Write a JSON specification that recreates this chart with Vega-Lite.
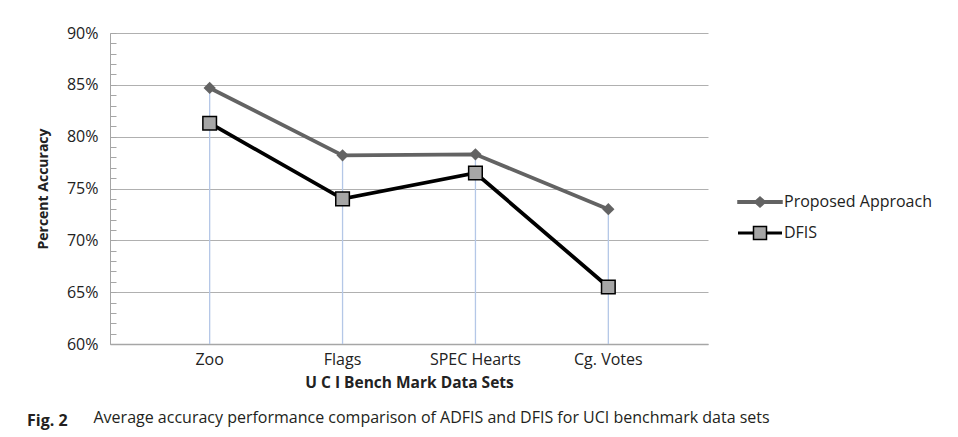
{
  "$schema": "https://vega.github.io/schema/vega-lite/v6.json",
  "autosize": {"type": "none"},
  "width": 598,
  "height": 311,
  "padding": {"left": 110, "top": 33, "right": 250, "bottom": 93},
  "background": "white",
  "config": {
    "view": {"stroke": null},
    "font": "Open Sans"
  },
  "title": {
    "text": "Fig. 2",
    "subtitle": "\u200b\u00a0\u00a0\u00a0\u00a0\u00a0\u00a0\u00a0\u00a0\u00a0\u00a0\u00a0\u00a0\u00a0\u00a0\u00a0\u00a0Average accuracy performance comparison of ADFIS and DFIS for UCI benchmark data sets",
    "orient": "bottom",
    "anchor": "start",
    "frame": "group",
    "dx": -83,
    "offset": 22,
    "font": "Open Sans",
    "fontSize": 16,
    "fontWeight": "bold",
    "color": "#231f20",
    "subtitleFont": "Open Sans",
    "subtitleFontSize": 16,
    "subtitleColor": "#231f20",
    "subtitlePadding": -19
  },
  "data": {
    "values": [
      {"set": "Zoo", "series": "Proposed Approach", "acc": 84.7},
      {"set": "Flags", "series": "Proposed Approach", "acc": 78.2},
      {"set": "SPEC Hearts", "series": "Proposed Approach", "acc": 78.3},
      {"set": "Cg. Votes", "series": "Proposed Approach", "acc": 73.0},
      {"set": "Zoo", "series": "DFIS", "acc": 81.3},
      {"set": "Flags", "series": "DFIS", "acc": 74.0},
      {"set": "SPEC Hearts", "series": "DFIS", "acc": 76.5},
      {"set": "Cg. Votes", "series": "DFIS", "acc": 65.5}
    ]
  },
  "encoding": {
    "x": {
      "field": "set",
      "type": "nominal",
      "sort": null,
      "scale": {"padding": 0.5},
      "axis": {
        "title": "U C I Bench Mark Data Sets",
        "titleFontSize": 15.5,
        "titleFontWeight": "bold",
        "titleColor": "#222222",
        "titlePadding": 8,
        "labelAngle": 0,
        "labelFontSize": 16,
        "labelColor": "#222222",
        "labelPadding": 7,
        "ticks": false,
        "grid": false,
        "domainColor": "#a6a6a6",
        "domainWidth": 1.5
      }
    },
    "y": {
      "field": "acc",
      "type": "quantitative",
      "scale": {"domain": [60, 90], "nice": false, "zero": false},
      "axis": {
        "title": "Percent Accuracy",
        "titleFontSize": 14,
        "titleFontWeight": "bold",
        "titleColor": "#222222",
        "titlePadding": 16,
        "values": [60,61,62,63,64,65,66,67,68,69,70,71,72,73,74,75,76,77,78,79,80,81,82,83,84,85,86,87,88,89,90],
        "labelExpr": "datum.value % 5 === 0 ? datum.value + '%' : ''",
        "labelOverlap": false,
        "labelBound": false,
        "labelFontSize": 16,
        "labelColor": "#222222",
        "labelPadding": 18,
        "grid": true,
        "gridColor": "#b0b0b0",
        "gridWidth": 1,
        "gridOpacity": {"condition": {"test": "datum.value % 5 === 0", "value": 1}, "value": 0},
        "ticks": true,
        "tickSize": -6,
        "tickColor": "#a6a6a6",
        "domainColor": "#a6a6a6",
        "domainWidth": 1
      }
    }
  },
  "layer": [
    {
      "transform": [{"filter": "datum.series === 'Proposed Approach'"}],
      "mark": {"type": "rule", "color": "#b4c7e7", "strokeWidth": 1.3},
      "encoding": {"y2": {"datum": 60}}
    },
    {
      "mark": {"type": "line", "strokeWidth": 3.8},
      "encoding": {
        "color": {
          "field": "series",
          "type": "nominal",
          "scale": {"domain": ["Proposed Approach", "DFIS"], "range": ["#636363", "#000000"]},
          "legend": {
            "title": null,
            "orient": "none",
            "legendX": 651,
            "legendY": 158,
            "labelFontSize": 16,
            "labelColor": "#222222",
            "labelOffset": 1,
            "symbolSize": 400,
            "rowPadding": 12,
            "symbolStrokeWidth": 1.5,
            "encode": {
              "symbols": {
                "update": {
                  "shape": {"signal": "datum.value === 'DFIS' ? 'M-3.4,-0.08 L-1.85,-0.08 M-3.4,0.08 L-1.85,0.08 M-0.55,-0.08 L1,-0.08 M-0.55,0.08 L1,0.08 M-1.85,-0.65 L-0.55,-0.65 L-0.55,0.65 L-1.85,0.65 Z' : 'M-3.4,-0.12 L1,-0.12 L1,0.12 L-3.4,0.12 Z M-1.2,-0.5 L-0.65,0 L-1.2,0.5 L-1.75,0 Z'"},
                  "fill": {"signal": "datum.value === 'DFIS' ? '#a6a6a6' : '#636363'"},
                  "stroke": {"signal": "datum.value === 'DFIS' ? '#000000' : '#636363'"},
                  "strokeWidth": {"value": 1.5},
                  "opacity": {"value": 1}
                }
              }
            }
          }
        }
      }
    },
    {
      "transform": [{"filter": "datum.series === 'Proposed Approach'"}],
      "mark": {"type": "point", "shape": "diamond", "filled": true, "color": "#636363", "size": 150, "opacity": 1}
    },
    {
      "transform": [{"filter": "datum.series === 'DFIS'"}],
      "mark": {"type": "point", "shape": "square", "filled": true, "fill": "#a6a6a6", "stroke": "#000000", "strokeWidth": 1.5, "size": 185, "opacity": 1}
    }
  ]
}
